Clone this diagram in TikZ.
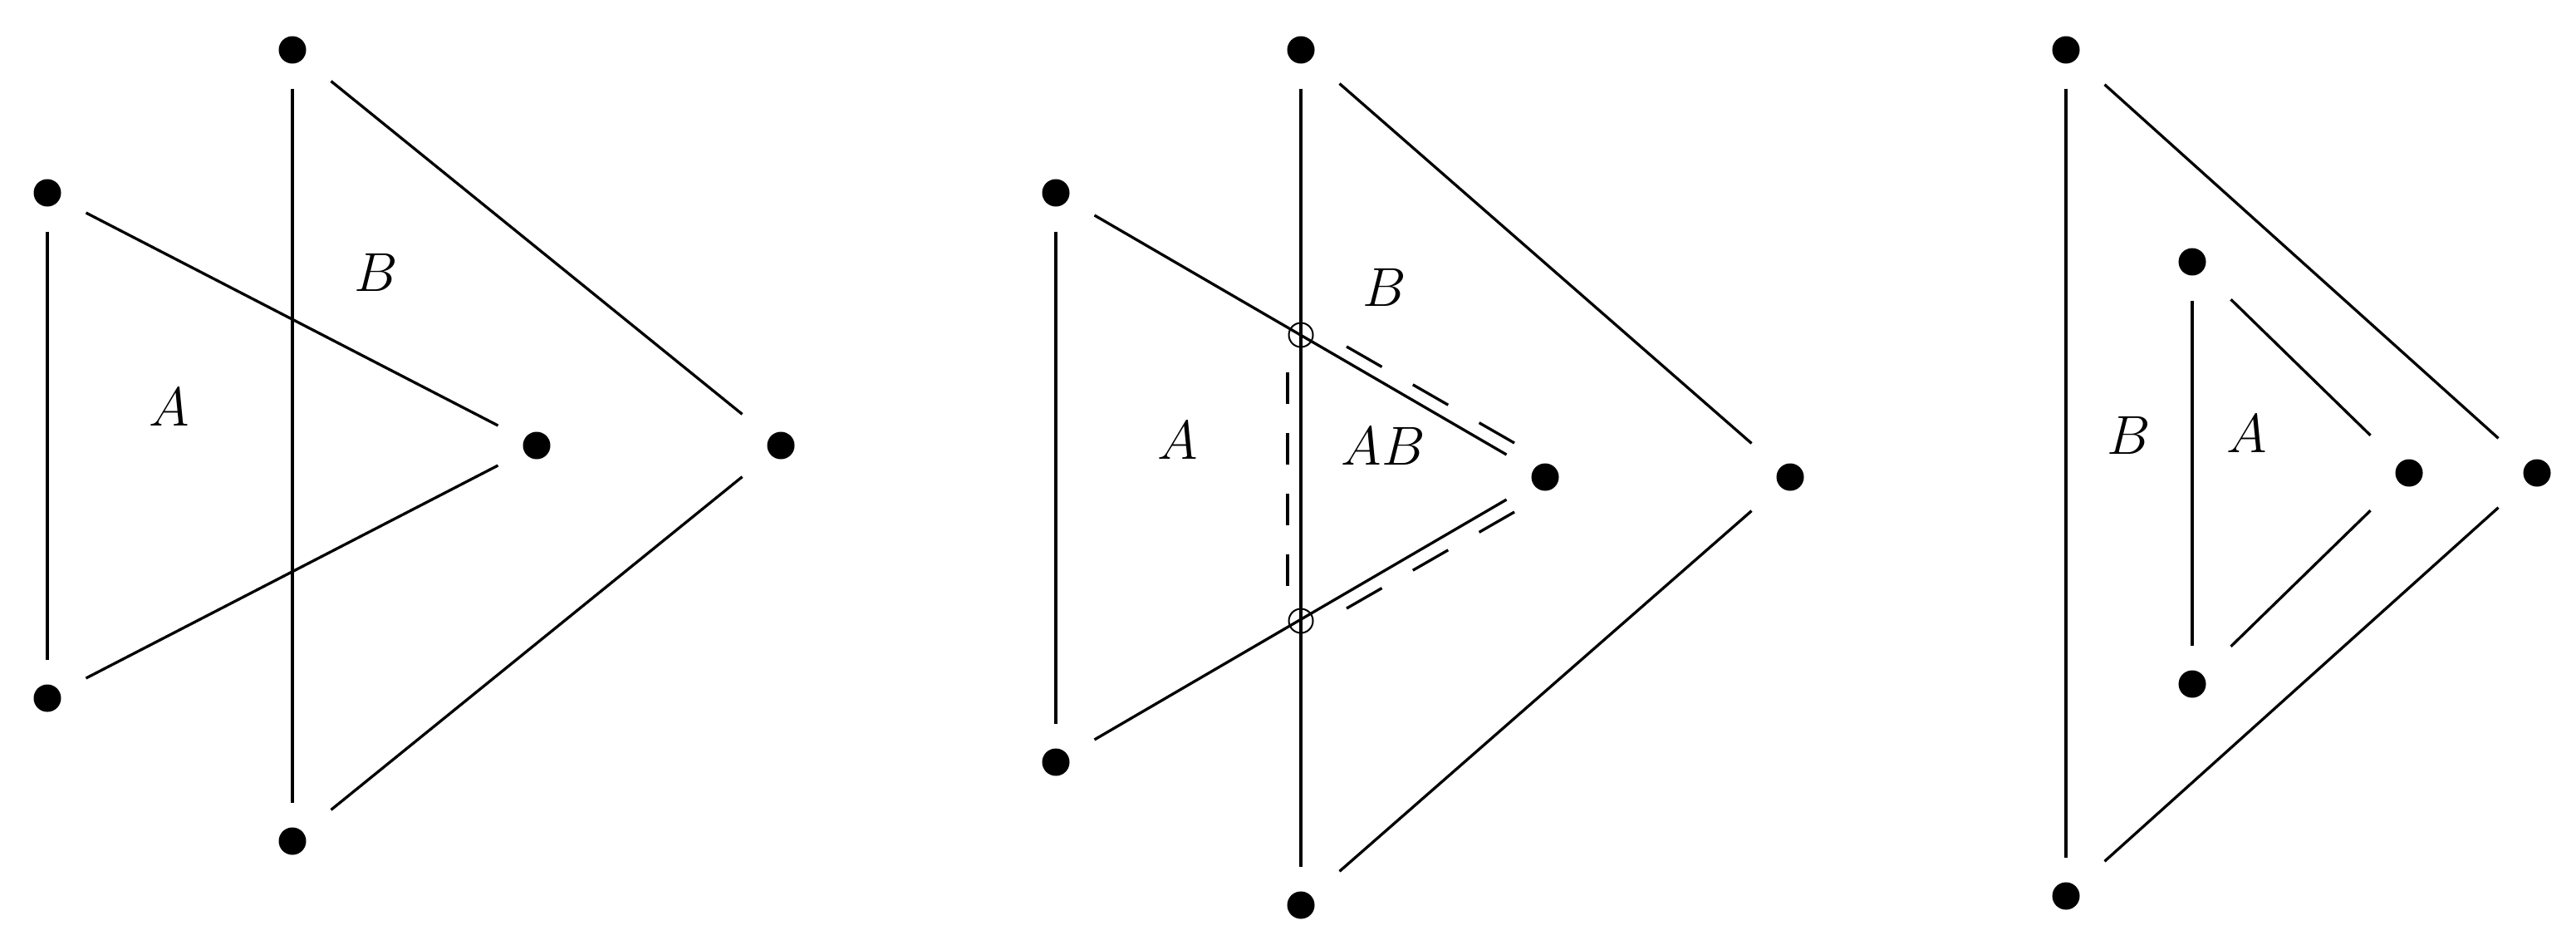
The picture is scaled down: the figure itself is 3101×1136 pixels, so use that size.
\RequirePackage{fix-cm}
\documentclass[tikz,border=0pt]{standalone}
\usepackage{tikz}

\begin{document}
\begin{tikzpicture}[x=0.2pt, y=-0.2pt, line width=0.66pt]
        \tikzset{
           vertex/.style={
                        rectangle,
                        inner sep=0pt,
                        outer sep=0pt,
                        minimum size=18.6pt,
                        path picture={\fill[black] (path picture bounding box.center) circle (3.3pt);}
                       },
           meet/.style={circle, draw, line width=0.4pt, inner sep=0pt, outer sep=0pt, minimum size=5.8pt},
           region/.style={inner sep=0pt, font=\fontsize{13.2pt}{16pt}\selectfont},
           trace/.style={dash pattern=on 9.8pt off 8.6pt},
           traceUp/.style={dash pattern=on 7.6pt off 7pt},
                 };
        \useasboundingbox (0,0) rectangle (3101,1136);
        %----------------
        % first picture
        \node[vertex] (aTop1) at (57,232) {};
        \node[vertex] (aBot1) at (57,840) {};
        \node[vertex] (aTip1) at (646,536) {};
        \node[vertex] (bTop1) at (352,60) {};
        \node[vertex] (bBot1) at (352,1012) {};
        \node[vertex] (bTip1) at (940,536) {};
        \node[region] (labA1) at (204,490) {$A$};
        \node[region] (labB1) at (453,328) {$B$};
        %----------------
        % second picture
        \node[vertex] (aTop2) at (1271,232) {};
        \node[vertex] (aBot2) at (1271,917) {};
        \node[vertex] (aTip2) at (1860,574) {};
        \node[vertex] (bTop2) at (1566,60) {};
        \node[vertex] (bBot2) at (1566,1089) {};
        \node[vertex] (bTip2) at (2155,574) {};
        \node[region] (labA2) at (1418,530) {$A$};
        \node[region] (labB2) at (1667,346) {$B$};
        \node[region] (labAB2) at (1665,537) {$AB$};
        \coordinate (upStart) at (1621,417);
        \coordinate (upEnd) at (1823,533);
        \coordinate (lowStart) at (1621,732);
        \coordinate (lowEnd) at (1823,616);
        \coordinate (sideStart) at (1550,448);
        \coordinate (sideEnd) at (1550,705);
        %----------------
        % third picture
        \node[vertex] (bTop3) at (2487,60) {};
        \node[vertex] (bBot3) at (2487,1078) {};
        \node[vertex] (bTip3) at (3054,569) {};
        \node[vertex] (aTop3) at (2639,315) {};
        \node[vertex] (aBot3) at (2639,823) {};
        \node[vertex] (aTip3) at (2900,569) {};
        \node[region] (labB3) at (2563,524) {$B$};
        \node[region] (labA3) at (2705,522) {$A$};
        %----------------
        \path (aTop1) edge (aBot1)
              (aTop1) edge (aTip1)
              (aBot1) edge (aTip1)
              (bTop1) edge (bBot1)
              (bTop1) edge (bTip1)
              (bBot1) edge (bTip1)
              (aTop2) edge (aBot2)
              (aTop2) edge (aTip2)
              (aBot2) edge (aTip2)
              (bTop2) edge (bBot2)
              (bTop2) edge (bTip2)
              (bBot2) edge (bTip2)
              (bTop3) edge (bBot3)
              (bTop3) edge (bTip3)
              (bBot3) edge (bTip3)
              (aTop3) edge (aBot3)
              (aTop3) edge (aTip3)
              (aBot3) edge (aTip3)
        ;
        \path (upStart) edge[trace] (upEnd)
              (lowStart) edge[trace] (lowEnd)
              (sideStart) edge[traceUp] (sideEnd)
        ;
        \node[meet] (cutUp) at (1566,403) {};
        \node[meet] (cutLow) at (1566,747) {};
    \end{tikzpicture}
\end{document}
